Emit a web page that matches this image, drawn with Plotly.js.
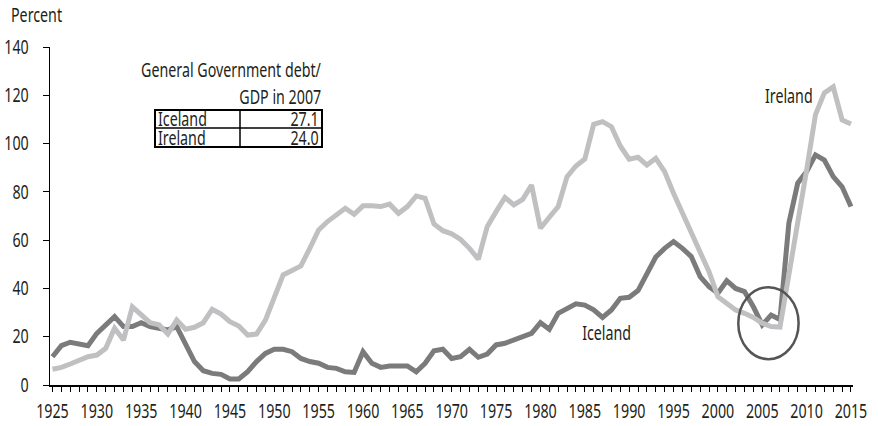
<!DOCTYPE html>
<html>
<head>
<meta charset="utf-8">
<script src="https://cdn.plot.ly/plotly-3.0.1.min.js"></script>
<style>
  html, body { margin: 0; padding: 0; background: #ffffff; }
  #chart { width: 878px; height: 426px; }
</style>
</head>
<body>
<div id="chart"></div>
<script>
// ---------------- Data ----------------
const years = [];
for (let y = 1925; y <= 2015; y++) years.push(y);

const iceland = [
  11.7, 16.3, 17.7, 17.0, 16.3, 21.4, 24.8, 28.3, 24.2, 24.2,   // 1925-1934
  25.8, 24.2, 23.5, 22.8, 24.2, 17.3, 9.7, 5.9, 4.8, 4.4,       // 1935-1944
  2.5, 2.5, 5.5, 9.7, 13.1, 14.8, 14.8, 13.8, 11.0, 9.7,        // 1945-1954
  9.0, 7.3, 6.9, 5.5, 5.2, 13.8, 9.0, 7.3, 7.9, 7.9,            // 1955-1964
  7.9, 5.5, 9.0, 14.2, 14.8, 11.0, 11.7, 14.8, 11.5, 12.8,      // 1965-1974
  16.6, 17.3, 18.6, 20.0, 21.4, 25.8, 23.1, 29.7, 31.8, 33.6,   // 1975-1984
  33.1, 31.1, 28.0, 31.1, 35.9, 36.3, 39.1, 46.3, 53.0, 56.6,   // 1985-1994
  59.4, 56.6, 53.2, 44.9, 40.7, 38.0, 43.2, 40.0, 38.7, 32.4,   // 1995-2004
  24.9, 29.0, 27.1, 67.0, 83.6, 88.4, 95.3, 93.2, 86.3, 82.1,   // 2005-2014
  73.9                                                          // 2015
];

const ireland = [
  6.5, 7.3, 8.7, 10.4, 11.7, 12.4, 15.2, 23.5, 18.6, 32.4,      // 1925-1934
  29.0, 25.8, 24.9, 21.1, 26.9, 23.1, 23.9, 25.8, 31.4, 29.4,   // 1935-1944
  26.2, 24.4, 20.7, 21.1, 26.9, 35.9, 45.6, 47.4, 49.3, 56.6,   // 1945-1954
  64.2, 67.7, 70.4, 73.2, 70.7, 74.2, 74.2, 73.9, 74.9, 71.1,   // 1955-1964
  73.9, 78.3, 77.3, 66.7, 63.9, 62.6, 60.3, 56.6, 52.1, 65.6,   // 1965-1974
  71.8, 77.7, 74.6, 76.9, 82.8, 64.9, 69.5, 73.9, 86.3, 90.7,   // 1975-1984
  93.6, 108.0, 109.1, 107.0, 99.0, 93.5, 94.3, 91.1, 93.9, 88.4,// 1985-1994
  79.4, 71.1, 62.8, 54.6, 46.9, 36.6, 33.8, 31.1, 29.7, 28.0,   // 1995-2004
  25.6, 24.2, 24.0, 45.0, 66.0, 89.0, 112.0, 121.0, 123.5, 109.8, // 2005-2014
  108.1                                                         // 2015
];

const xTickLabels = years.map(y => (y % 5 === 0 ? String(y) : ''));
const yTickVals = [0, 20, 40, 60, 80, 100, 120, 140];

const tableTitle = ['General Government debt/', 'GDP in 2007'];
const tableCountries = ['Iceland', 'Ireland'];
const tableValues = ['27.1', '24.0'];

const seriesLabels = ['Iceland', 'Ireland'];

// ---------------- Layout helpers ----------------
const W = 878, H = 426;
const M = { l: 50, r: 25, t: 47, b: 41 };
const PW = W - M.l - M.r, PH = H - M.t - M.b;
const px = x => (x - M.l) / PW;          // pixel -> paper x
const py = y => (H - M.b - y) / PH;      // pixel -> paper y

const FONT = "'Noto Sans', 'Open Sans', 'DejaVu Sans', sans-serif";
const FS = 19;
const TXT = '#231f20';

const traces = [
  { x: years, y: iceland, type: 'scatter', mode: 'lines', name: seriesLabels[0],
    line: { color: '#7b7b7b', width: 5 }, hoverinfo: 'x+y' },
  { x: years, y: ireland, type: 'scatter', mode: 'lines', name: seriesLabels[1],
    line: { color: '#c0c0c2', width: 5 }, hoverinfo: 'x+y' }
];

// table geometry (pixels)
const T = { x0: 155, x1: 322, xc: 240, y0: 110, ym: 128, y1: 147 };

const shapes = [
  { type: 'rect', xref: 'paper', yref: 'paper',
    x0: px(T.x0), x1: px(T.x1), y0: py(T.y1), y1: py(T.y0),
    line: { color: '#000', width: 2 }, fillcolor: 'rgba(0,0,0,0)' },
  { type: 'line', xref: 'paper', yref: 'paper',
    x0: px(T.x0), x1: px(T.x1), y0: py(T.ym), y1: py(T.ym),
    line: { color: '#000', width: 1.5 } },
  { type: 'line', xref: 'paper', yref: 'paper',
    x0: px(T.xc), x1: px(T.xc), y0: py(T.y1), y1: py(T.y0),
    line: { color: '#000', width: 1.5 } },
  // highlight circle around 2005-2007
  { type: 'circle', xref: 'x', yref: 'y',
    x0: 2002.3, x1: 2009.1, y0: 10.7, y1: 40.5,
    line: { color: '#555555', width: 2.5 } }
];

function ann(text, xref, yref, x, y, xanchor) {
  return { text: text, xref: xref, yref: yref, x: x, y: y,
    xanchor: xanchor, align: xanchor === 'center' ? 'center' : xanchor,
    yanchor: 'middle', showarrow: false, borderpad: 0,
    font: { family: FONT, size: FS, color: TXT } };
}

const annotations = [
  ann('Percent', 'paper', 'paper', px(10), py(15), 'left'),
  ann(tableTitle[0], 'paper', 'paper', px(322), py(70), 'right'),
  ann(tableTitle[1], 'paper', 'paper', px(322), py(97), 'right'),
  ann(seriesLabels[0], 'x', 'y', 1987.4, 21.5, 'center'),
  ann(seriesLabels[1], 'x', 'y', 2008.0, 119.7, 'center')
];

tableCountries.forEach((c, i) => {
  const yc = i === 0 ? (T.y0 + T.ym) / 2 : (T.ym + T.y1) / 2;
  annotations.push(ann(c, 'paper', 'paper', px(T.x0 + 2), py(yc), 'left'));
  annotations.push(ann(tableValues[i], 'paper', 'paper', px(T.x1 - 2), py(yc), 'right'));
});

const layout = {
  width: W, height: H,
  margin: M,
  paper_bgcolor: '#ffffff', plot_bgcolor: '#ffffff',
  showlegend: false,
  font: { family: FONT, size: FS, color: TXT },
  xaxis: {
    range: [1924.72, 2015.23],
    tickmode: 'array', tickvals: years, ticktext: xTickLabels,
    tickangle: 0,
    ticks: 'outside', ticklen: 5, tickwidth: 1, tickcolor: '#000',
    showline: true, linecolor: '#000', linewidth: 1.5,
    showgrid: false, zeroline: false,
    tickfont: { family: FONT, size: FS, color: TXT },
    ticklabelstandoff: 4,
    fixedrange: true
  },
  yaxis: {
    range: [0, 140],
    tickmode: 'array', tickvals: yTickVals, ticktext: yTickVals.map(String),
    ticks: 'outside', ticklen: 6, tickwidth: 1, tickcolor: '#000',
    showline: true, linecolor: '#000', linewidth: 1.5,
    showgrid: false, zeroline: false,
    tickfont: { family: FONT, size: FS, color: TXT },
    ticklabelstandoff: 10,
    fixedrange: true
  },
  shapes: shapes,
  annotations: annotations
};

// condense all text horizontally around its anchor point (reference uses a condensed face)
const SX = 0.75;
function condense() {
  document.querySelectorAll('#chart svg text').forEach(t => {
    if (t.getAttribute('data-condensed')) return;
    const x = parseFloat(t.getAttribute('x')) || 0;
    const tr = t.getAttribute('transform') || '';
    t.setAttribute('transform', (tr + ' matrix(' + SX + ',0,0,1,' + ((1 - SX) * x) + ',0)').trim());
    t.setAttribute('data-condensed', '1');
  });
}

Plotly.newPlot('chart', traces, layout, { displayModeBar: false, staticPlot: true })
  .then(condense);
</script>
</body>
</html>
